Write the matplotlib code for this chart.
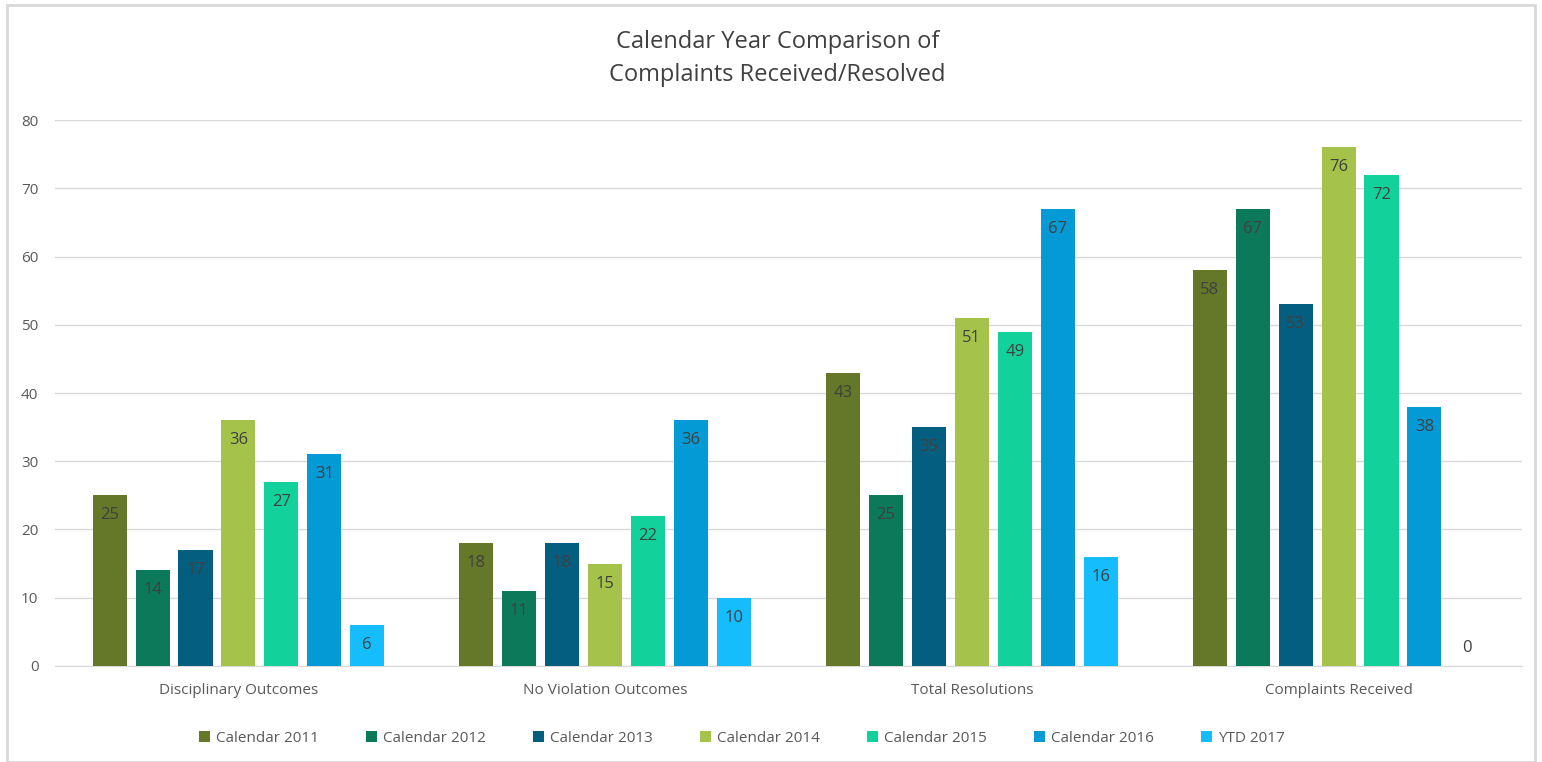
import numpy as np
import matplotlib
matplotlib.use("Agg")
import matplotlib.pyplot as plt
from matplotlib.patches import Rectangle

plt.rcParams["font.family"] = ["Open Sans", "DejaVu Sans"]

categories = ["Disciplinary Outcomes", "No Violation Outcomes",
              "Total Resolutions", "Complaints Received"]
series_names = ["Calendar 2011", "Calendar 2012", "Calendar 2013",
                "Calendar 2014", "Calendar 2015", "Calendar 2016", "YTD 2017"]
cal_2011 = [25, 18, 43, 58]
cal_2012 = [14, 11, 25, 67]
cal_2013 = [17, 18, 35, 53]
cal_2014 = [36, 15, 51, 76]
cal_2015 = [27, 22, 49, 72]
cal_2016 = [31, 36, 67, 38]
ytd_2017 = [6, 10, 16, 0]
colors = ["#657729", "#0C7A5A", "#045E80", "#A5C24A",
          "#13D19B", "#039AD6", "#15BDFC"]

series = [cal_2011, cal_2012, cal_2013, cal_2014, cal_2015, cal_2016, ytd_2017]

fig = plt.figure(figsize=(15.42, 7.62), dpi=100)
ax = fig.add_axes([0.0357, 0.126, 0.9513, 0.7165])

x = np.arange(len(categories))
step = 0.117
width = 0.093
for i, (vals, name, col) in enumerate(zip(series, series_names, colors)):
    pos = x + (i - 3) * step
    bars = ax.bar(pos, vals, width, color=col, label=name, zorder=3)
    for b, v in zip(bars, vals):
        off = -20 if v > 0 else 18
        ax.annotate(str(v), (b.get_x() + b.get_width() / 2, v),
                    xytext=(0, off), textcoords="offset pixels",
                    ha="center", va="center", fontsize=12, color="#404040",
                    zorder=4)

ax.set_xlim(-0.5, 3.5)
ax.set_ylim(0, 80)
ax.set_yticks(range(0, 81, 10))
ax.set_xticks(x)
ax.set_xticklabels(categories)
ax.tick_params(axis="both", length=0, labelsize=11, colors="#595959")
ax.tick_params(axis="x", pad=12)
ax.tick_params(axis="y", pad=12)
ax.grid(axis="y", color="#d9d9d9", lw=1, zorder=0)
for s in ["top", "right", "left"]:
    ax.spines[s].set_visible(False)
ax.spines["bottom"].set_color("#d9d9d9")
ax.set_axisbelow(True)

fig.text(0.504, 0.923, "Calendar Year Comparison of\nComplaints Received/Resolved",
         ha="center", va="center", fontsize=17, color="#404040", linespacing=1.5)

fig.legend(loc="center", bbox_to_anchor=(0.481, 0.031), ncol=7, frameon=False,
           fontsize=11, handlelength=0.7, handleheight=0.7, handletextpad=0.4,
           columnspacing=3.1, labelcolor="#595959")

fig.patches.append(Rectangle((7 / 1542, 0.0), 1528 / 1542, 1 - 5 / 762,
                             transform=fig.transFigure, fill=False,
                             edgecolor="#d9d9d9", lw=2))

fig.savefig("out.png", dpi=100)
